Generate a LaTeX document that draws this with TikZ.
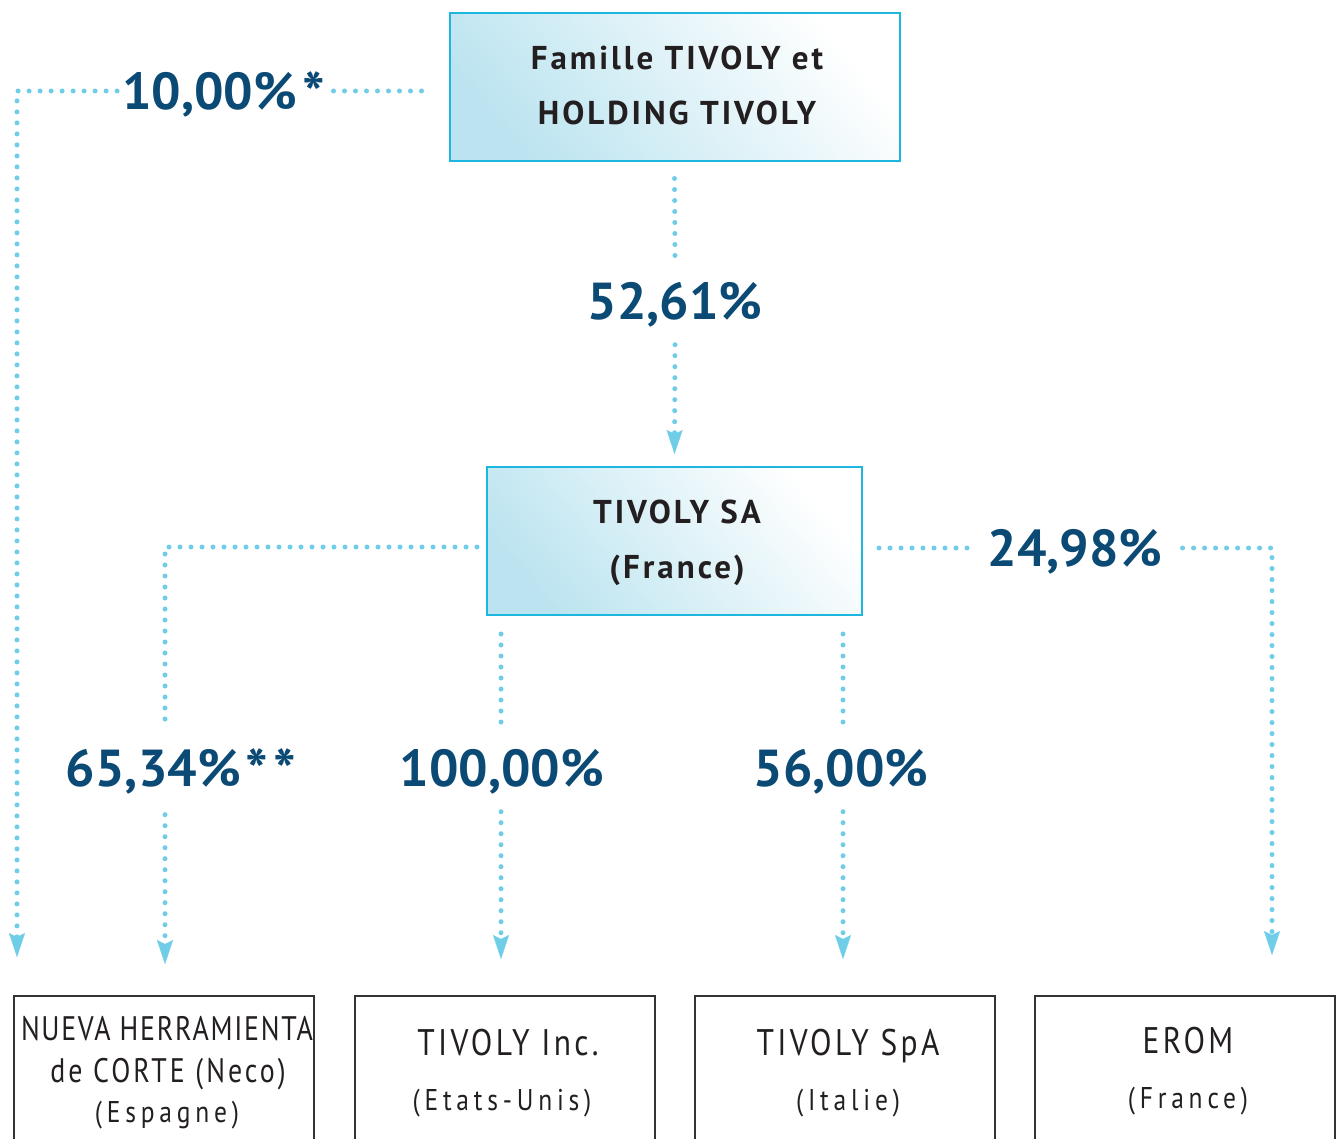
\documentclass[tikz,border=0pt]{standalone}
\usepackage{fontspec}
\setmainfont{PT Sans}
\newfontfamily\hdrfont{PT Sans}[LetterSpace=9]
\newfontfamily\subfont{PT Sans}[FakeStretch=0.85,LetterSpace=9]
\newfontfamily\subsmallfont{PT Sans}[FakeStretch=0.85,LetterSpace=16]
\newfontfamily\nuevafont{PT Sans}[FakeStretch=0.82,LetterSpace=5]
\newfontfamily\corteFont{PT Sans}[FakeStretch=0.82,LetterSpace=9]
\usetikzlibrary{arrows.meta,calc}
\definecolor{dotblue}{HTML}{6FCDE8}
\definecolor{boxcyan}{HTML}{1DB6DE}
\definecolor{shadeblue}{HTML}{BCE4F0}
\definecolor{pctblue}{HTML}{0B4A75}
\definecolor{textdark}{HTML}{231F20}
\definecolor{subborder}{HTML}{333333}
\newcommand{\bigast}{\raisebox{-6pt}{\fontsize{60}{60}\selectfont *}}
\begin{document}
\begin{tikzpicture}[x=1pt,y=-1pt,
  topbox/.style={draw=boxcyan, line width=2pt, bottom color=shadeblue, top color=white, shading angle=-50, minimum width=450pt, minimum height=148pt, inner sep=0pt},
  subbox/.style={draw=subborder, line width=2pt, fill=white, minimum width=300pt, minimum height=148pt, inner sep=0pt},
  hdr/.style={anchor=base, inner sep=0pt, text=textdark, font=\hdrfont\fontsize{33}{40}\selectfont\bfseries},
  sub/.style={anchor=base, inner sep=0pt, text=textdark, font=\subfont\fontsize{37}{44}\selectfont},
  subsmall/.style={anchor=base, inner sep=0pt, text=textdark, font=\subsmallfont\fontsize{30}{36}\selectfont},
  nueva/.style={anchor=base, inner sep=0pt, text=textdark, font=\nuevafont\fontsize{34}{40}\selectfont},
  pct/.style={inner sep=0pt, text=pctblue, text height=37pt, text depth=0pt, font=\fontsize{52}{60}\selectfont\bfseries},
  dots/.style={draw=dotblue, line width=5pt, line cap=round, dash pattern=on 0pt off 11pt},
  arrowend/.style={-{Stealth[length=24pt,width=16pt,inset=4pt,line width=0.1pt]}}
]
\useasboundingbox (0,0) rectangle (1341,1139);

% main boxes
\node[topbox] (top) at (674.5,87.5) {};
\node[hdr] (topA) at (677,70) {Famille TIVOLY et};
\node[hdr] (topB) at (677,125) {HOLDING TIVOLY};
\node[topbox, minimum width=375pt] (sa) at (674.5,541) {};
\node[hdr] (saA) at (677,523) {TIVOLY SA};
\node[hdr] (saB) at (677,578) {(France)};

% subsidiaries
\node[subbox] (nuv) at (163.5,1070) {};
\node[nueva] (nuvA) at (167,1040) {NUEVA HERRAMIENTA};
\node[nueva, font=\corteFont\fontsize{34}{40}\selectfont] (nuvB) at (168,1082) {de CORTE (Neco)};
\node[subsmall] (nuvC) at (167,1122) {(Espagne)};
\node[subbox] (inc) at (505,1070) {};
\node[sub] (incA) at (508,1055) {TIVOLY Inc.};
\node[subsmall] (incB) at (502,1110) {(Etats-Unis)};
\node[subbox] (spa) at (845,1070) {};
\node[sub] (spaA) at (848,1055) {TIVOLY SpA};
\node[subsmall] (spaB) at (848,1110) {(Italie)};
\node[subbox] (erom) at (1185,1070) {};
\node[sub] (eromA) at (1188,1053) {EROM};
\node[subsmall] (eromB) at (1188,1108) {(France)};

% percentages
\node[pct] (l10) at (223.5,91) {10,00\%\kern5pt\bigast};
\node[pct] (l52) at (675,301) {52,61\%};
\node[pct] (l65) at (181,768) {65,34\%\kern5pt\bigast\kern5pt\bigast};
\node[pct] (l100) at (502,768) {100,00\%};
\node[pct] (l56) at (841,768) {56,00\%};
\node[pct] (l24) at (1075,548) {24,98\%};

% helper coordinates
\coordinate (hA) at (0,91);
\coordinate (tipA) at (17,957);
\coordinate (hC) at (0,547);
\coordinate (vC) at (165,0);
\coordinate (vD) at (501,0);
\coordinate (vE) at (843,0);
\coordinate (hF) at (0,548);
\coordinate (tipF) at (1272,955);

% connectors
\draw[dots] ($(top.west |- hA)+(-27,0)$) -- ($(l10.east |- hA)+(6,0)$);
\draw[dots,arrowend] ($(l10.west |- hA)+(-5,0)$) -| (tipA);

\draw[dots] ($(top.south)+(0,16)$) -- ($(l52.north)+(0,-24)$);
\draw[dots,arrowend] ($(l52.south)+(0,25)$) -- ($(sa.north)+(0,-12)$);

\draw[dots] ($(sa.west |- hC)+(-9,0)$) -| ($(vC |- l65.north)+(0,-21)$);
\draw[dots,arrowend] ($(vC |- l65.south)+(0,28)$) -- ($(vC |- nuv.north)+(0,-31)$);

\draw[dots] ($(vD |- sa.south)+(0,18)$) -- ($(vD |- l100.north)+(0,-21)$);
\draw[dots,arrowend] ($(vD |- l100.south)+(0,25)$) -- ($(vD |- inc.north)+(0,-36)$);

\draw[dots] ($(vE |- sa.south)+(0,18)$) -- ($(vE |- l56.north)+(0,-21)$);
\draw[dots,arrowend] ($(vE |- l56.south)+(0,25)$) -- ($(vE |- spa.north)+(0,-36)$);

\draw[dots] ($(sa.east |- hF)+(16,0)$) -- ($(l24.west |- hF)+(-20,0)$);
\draw[dots,arrowend] ($(l24.east |- hF)+(20,0)$) -| (tipF);
\end{tikzpicture}
\end{document}
